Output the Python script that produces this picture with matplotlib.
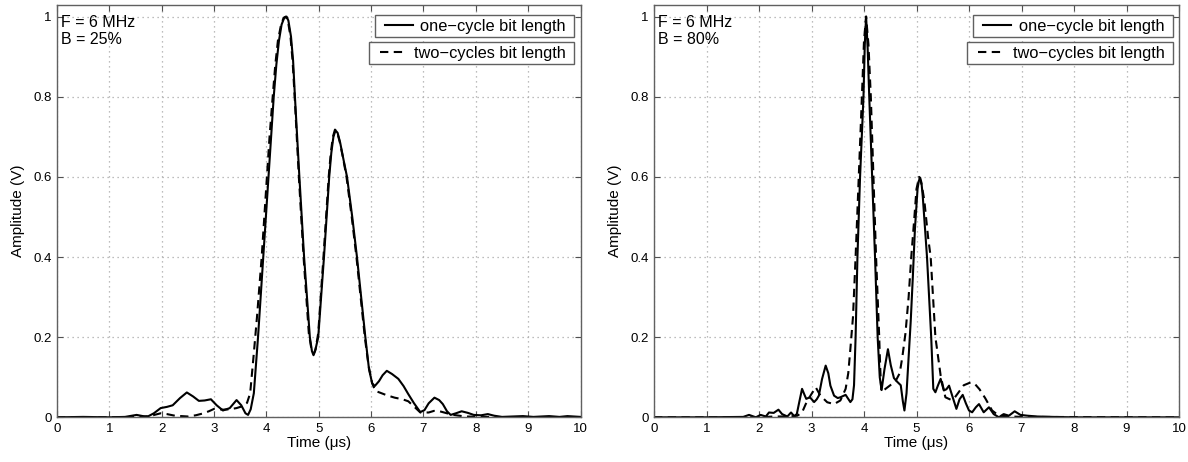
import matplotlib
matplotlib.use("Agg")
import matplotlib.pyplot as plt
from matplotlib.ticker import FuncFormatter
from matplotlib.legend_handler import HandlerLine2D

# ---------------- data ----------------
# Left panel: F = 6 MHz, B = 25%
t_one_25 = [0.0, 0.5, 1.0, 1.3, 1.52, 1.72, 1.85, 1.98, 2.1, 2.21, 2.35, 2.48, 2.6, 2.71, 2.82,
            2.94, 3.05, 3.17, 3.3, 3.43, 3.52, 3.6, 3.65, 3.7, 3.76, 3.84, 3.94, 4.04, 4.09, 4.14,
            4.19, 4.24, 4.29, 4.34, 4.386, 4.42, 4.47, 4.51, 4.545, 4.63, 4.72, 4.83, 4.87, 4.9,
            4.93, 4.99, 5.1, 5.2, 5.24, 5.28, 5.32, 5.36, 5.41, 5.47, 5.54, 5.64, 5.73, 5.81,
            5.89, 5.96, 6.02, 6.07, 6.15, 6.22, 6.3, 6.4, 6.52, 6.62, 6.71, 6.82, 6.94, 7.02,
            7.1, 7.21, 7.3, 7.37, 7.45, 7.52, 7.62, 7.73, 7.85, 7.96, 8.1, 8.23, 8.35, 8.5, 8.7,
            8.9, 9.1, 9.4, 9.6, 9.75, 10.0]
a_one_25 = [0.0, 0.001, 0.0, 0.001, 0.006, 0.001, 0.010, 0.023, 0.026, 0.030, 0.048, 0.062, 0.052,
            0.041, 0.042, 0.045, 0.030, 0.017, 0.023, 0.043, 0.030, 0.010, 0.006, 0.02, 0.06, 0.20,
            0.40, 0.60, 0.70, 0.80, 0.88, 0.94, 0.98, 0.997, 1.0, 0.99, 0.95, 0.89, 0.80, 0.60,
            0.40, 0.20, 0.165, 0.155, 0.165, 0.20, 0.40, 0.60, 0.66, 0.70, 0.716, 0.71, 0.685,
            0.645, 0.60, 0.50, 0.40, 0.30, 0.20, 0.12, 0.085, 0.078, 0.09, 0.105, 0.116, 0.108,
            0.096, 0.078, 0.058, 0.035, 0.013, 0.018, 0.035, 0.049, 0.043, 0.033, 0.015, 0.006,
            0.010, 0.015, 0.011, 0.006, 0.005, 0.008, 0.004, 0.001, 0.002, 0.003, 0.001, 0.003,
            0.001, 0.003, 0.001]

t_two_25 = [0.0, 1.0, 1.6, 1.8, 1.98, 2.1, 2.25, 2.5, 2.65, 2.77, 2.9, 3.0, 3.1, 3.17, 3.3, 3.43,
            3.55, 3.63, 3.69, 3.76, 3.82, 3.91, 4.01, 4.06, 4.12, 4.17, 4.22, 4.28, 4.33, 4.37,
            4.41, 4.46, 4.5, 4.54, 4.62, 4.71, 4.81, 4.86, 4.9, 4.94, 4.99, 5.09, 5.19, 5.23,
            5.27, 5.31, 5.35, 5.4, 5.46, 5.53, 5.63, 5.72, 5.8, 5.88, 5.95, 6.02, 6.08, 6.2, 6.3,
            6.45, 6.6, 6.71, 6.82, 6.94, 7.1, 7.2, 7.31, 7.45, 7.57, 7.8, 8.2, 9.0, 10.0]
a_two_25 = [0.0, 0.0, 0.001, 0.004, 0.010, 0.008, 0.004, 0.002, 0.005, 0.009, 0.015, 0.021, 0.020,
            0.019, 0.020, 0.023, 0.028, 0.036, 0.060, 0.16, 0.25, 0.40, 0.60, 0.70, 0.80, 0.88,
            0.94, 0.98, 0.997, 1.0, 0.99, 0.95, 0.89, 0.80, 0.60, 0.40, 0.21, 0.17, 0.158, 0.17,
            0.21, 0.40, 0.60, 0.66, 0.70, 0.718, 0.712, 0.688, 0.65, 0.60, 0.50, 0.40, 0.30,
            0.20, 0.13, 0.085, 0.066, 0.060, 0.055, 0.049, 0.045, 0.040, 0.027, 0.012, 0.012,
            0.016, 0.015, 0.010, 0.006, 0.002, 0.001, 0.0, 0.0]

# Right panel: F = 6 MHz, B = 80%
t_one_80 = [0.0, 1.0, 1.7, 1.81, 1.94, 2.03, 2.13, 2.19, 2.28, 2.37, 2.44, 2.54, 2.61, 2.67, 2.72,
            2.77, 2.82, 2.87, 2.9, 2.97, 3.05, 3.1, 3.14, 3.2, 3.27, 3.32, 3.36, 3.43, 3.5, 3.55,
            3.65, 3.74, 3.78, 3.81, 3.84, 3.875, 3.925, 3.99, 4.015, 4.04, 4.07, 4.1, 4.155,
            4.21, 4.26, 4.3, 4.335, 4.39, 4.456, 4.51, 4.57, 4.63, 4.7, 4.74, 4.77, 4.81, 4.85,
            4.89, 4.93, 4.97, 5.02, 5.045, 5.07, 5.095, 5.12, 5.2, 5.28, 5.32, 5.36, 5.41, 5.46,
            5.52, 5.57, 5.62, 5.68, 5.76, 5.82, 5.88, 5.94, 6.0, 6.06, 6.13, 6.19, 6.28, 6.38,
            6.47, 6.57, 6.66, 6.76, 6.87, 6.98, 7.11, 7.3, 7.6, 8.0, 10.0]
a_one_80 = [0.0, 0.0, 0.001, 0.006, 0.0, 0.006, 0.002, 0.012, 0.011, 0.019, 0.008, 0.002, 0.012,
            0.003, 0.008, 0.04, 0.071, 0.055, 0.046, 0.050, 0.038, 0.045, 0.054, 0.095, 0.129,
            0.11, 0.079, 0.054, 0.048, 0.050, 0.056, 0.038, 0.045, 0.08, 0.20, 0.40, 0.60, 0.80,
            0.93, 1.0, 0.92, 0.80, 0.60, 0.40, 0.20, 0.10, 0.068, 0.12, 0.17, 0.13, 0.098, 0.089,
            0.08, 0.04, 0.017, 0.06, 0.15, 0.24, 0.35, 0.47, 0.57, 0.59, 0.598, 0.585, 0.55,
            0.40, 0.20, 0.071, 0.0625, 0.08, 0.096, 0.067, 0.07, 0.079, 0.054, 0.021, 0.045,
            0.056, 0.035, 0.017, 0.0125, 0.025, 0.033, 0.0125, 0.025, 0.008, 0.0, 0.008, 0.004,
            0.015, 0.006, 0.004, 0.002, 0.001, 0.0, 0.0]

t_two_80 = [0.0, 2.0, 2.3, 2.6, 2.73, 2.82, 2.89, 2.98, 3.08, 3.17, 3.3, 3.43, 3.55, 3.65, 3.7,
            3.74, 3.79, 3.84, 3.9, 3.96, 4.0, 4.04, 4.085, 4.13, 4.18, 4.23, 4.29, 4.31, 4.33,
            4.4, 4.5, 4.6, 4.68, 4.73, 4.79, 4.85, 4.9, 4.96, 5.0, 5.05, 5.1, 5.15, 5.22, 5.27,
            5.36, 5.46, 5.55, 5.65, 5.71, 5.8, 5.9, 6.03, 6.12, 6.2, 6.31, 6.44, 6.57, 6.8, 7.0,
            10.0]
a_two_80 = [0.0, 0.0, 0.002, 0.002, 0.004, 0.012, 0.033, 0.054, 0.075, 0.054, 0.0375, 0.033, 0.042,
            0.071, 0.11, 0.17, 0.25, 0.40, 0.60, 0.80, 0.94, 1.0, 0.93, 0.80, 0.60, 0.40, 0.20,
            0.12, 0.064, 0.07, 0.08, 0.09, 0.11, 0.15, 0.21, 0.30, 0.40, 0.50, 0.57, 0.60, 0.58,
            0.54, 0.45, 0.40, 0.20, 0.104, 0.05, 0.044, 0.046, 0.062, 0.08, 0.087, 0.082, 0.07,
            0.0475, 0.017, 0.004, 0.002, 0.001, 0.0]

panel_notes = [["F = 6 MHz", "B = 25%"], ["F = 6 MHz", "B = 80%"]]
legend_labels = ["one\u2212cycle bit length", "two\u2212cycles bit length"]
x_ticks = list(range(0, 11))
y_ticks = [0, 0.2, 0.4, 0.6, 0.8, 1.0]

# ---------------- style ----------------
plt.rcParams['font.family'] = ['Liberation Sans', 'DejaVu Sans']
W, H = 1188, 462
fig = plt.figure(figsize=(W / 100, H / 100), dpi=100)
fig.patch.set_facecolor('white')

axes_px = [(57, 580.5), (654, 1179)]
top_px, bot_px = 5, 417.3

series = [(t_one_25, a_one_25, t_two_25, a_two_25),
          (t_one_80, a_one_80, t_two_80, a_two_80)]


def yfmt(v, _):
    if abs(v - round(v)) < 1e-9:
        return "%d" % round(v)
    return "%.1f" % v


for i, (x0, x1) in enumerate(axes_px):
    ax = fig.add_axes([x0 / W, (H - bot_px) / H, (x1 - x0) / W, (bot_px - top_px) / H])
    t1, a1, t2, a2 = series[i]
    l1, = ax.plot(t1, a1, color='black', lw=1.5, solid_joinstyle='round')
    l2, = ax.plot(t2, a2, color='black', lw=1.5, linestyle=(0, (4, 2.6)))
    ax.set_xlim(0, 10)
    ax.set_ylim(0, 1.029)
    ax.set_xticks(x_ticks)
    ax.set_yticks(y_ticks)
    ax.yaxis.set_major_formatter(FuncFormatter(yfmt))
    ax.grid(True, linestyle=(0, (1, 3)), color='#a8a8a8', lw=0.9)
    ax.tick_params(direction='in', top=True, right=True, length=4, width=0.8,
                   color='#505050', labelsize=9.5, pad=4)
    for s in ax.spines.values():
        s.set_color('#606060')
        s.set_linewidth(1.0)
    ax.set_xlabel("Time (\u03bcs)", fontsize=11, labelpad=1)
    ax.set_ylabel("Amplitude (V)", fontsize=11, labelpad=6)
    ax.text(0.008, 0.975, panel_notes[i][0] + "\n" + panel_notes[i][1],
            transform=ax.transAxes, ha='left', va='top', fontsize=11.5, linespacing=1.1)
    lkw = dict(loc='upper right', fontsize=11.8, frameon=True, fancybox=False,
               edgecolor='#606060', framealpha=1, borderpad=0.22, handlelength=2.1,
               handletextpad=0.45, borderaxespad=0)
    aw = x1 - x0
    ah = bot_px - top_px
    leg1 = ax.legend([l1], [legend_labels[0] + " "],
                     handler_map={l1: HandlerLine2D(xpad=0.37)},
                     bbox_to_anchor=(1 - 6.5 / aw, 1 - 10 / ah), **lkw)
    leg1.get_frame().set_linewidth(1.0)
    ax.add_artist(leg1)
    leg2 = ax.legend([l2], [legend_labels[1] + " "],
                     handler_map={l2: HandlerLine2D(xpad=0.45)},
                     bbox_to_anchor=(1 - 6.5 / aw, 1 - 37 / ah), **lkw)
    leg2.get_frame().set_linewidth(1.0)

fig.savefig("out.png", dpi=100)
